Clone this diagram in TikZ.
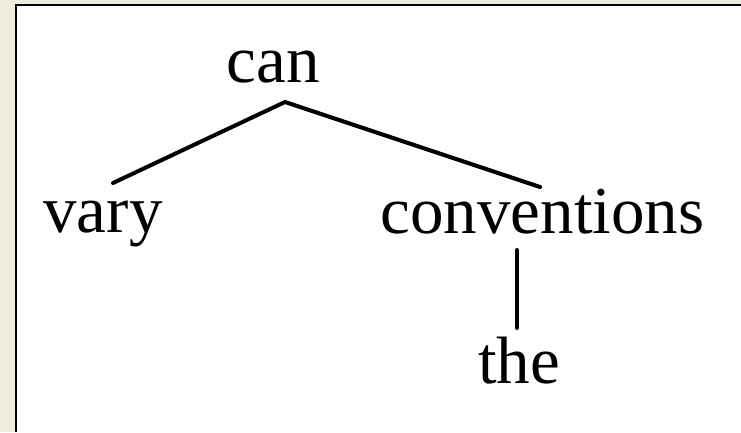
\documentclass[tikz,border=0pt]{standalone}
\usepackage{fontspec}
\setmainfont{Liberation Serif}
\usetikzlibrary{calc}
\definecolor{bgbeige}{RGB}{238,235,223}
\begin{document}
\begin{tikzpicture}[x=1pt,y=-1pt,
  word/.style={anchor=base,inner sep=0pt,font=\fontsize{67}{70}\selectfont},
  edge/.style={line width=4pt,line cap=round,line join=round}]
\useasboundingbox (0,0) rectangle (741,432);
\fill[bgbeige] (0,0) rectangle (741,432);
\fill[white] (15.7,5) rectangle (741,432);
\draw[line width=1.6pt] (15.7,432) -- (15.7,5) -- (741,5);
\node[word] (can) at (273,82) {can};
\node[word] (vary) at (103,232) {vary};
\node[word] (conv) at (542.5,233) {conventions};
\node[word] (the) at (519,383) {the};
\coordinate (apex) at ($(can.base)+(12,20)$);
\draw[edge] ($(vary.base)+(10,-49)$) -- (apex) -- ($(conv.base)+(-2.5,-46)$);
\draw[edge] ($(conv.base)+(-25.5,17)$) -- ($(the.base)+(-2,-55)$);
\end{tikzpicture}
\end{document}
